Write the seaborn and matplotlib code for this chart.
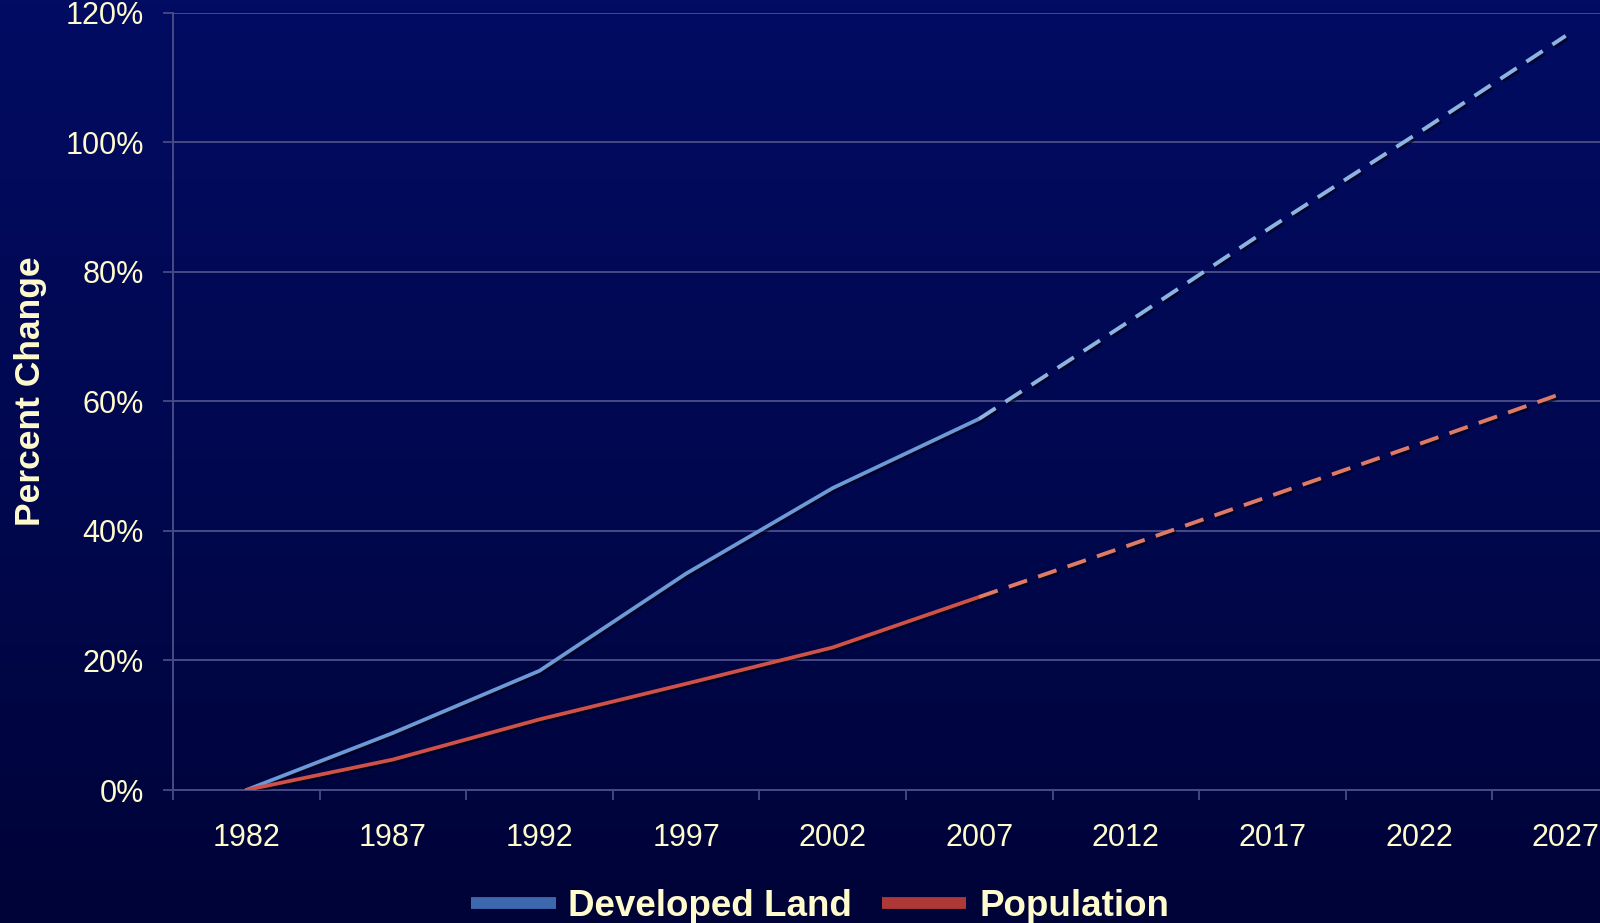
import numpy as np
import pandas as pd
import matplotlib
matplotlib.use("Agg")
import matplotlib.pyplot as plt
import matplotlib.patheffects as pe
from matplotlib.lines import Line2D
from matplotlib.colors import LinearSegmentedColormap
import seaborn as sns

# ---- data ----
years = ["1982", "1987", "1992", "1997", "2002", "2007", "2012", "2017", "2022", "2027"]
developed_land = [0.0, 8.8, 18.4, 33.4, 46.6, 57.3, 72.0, 87.0, 101.5, 116.4]
population = [0.0, 4.7, 10.9, 16.4, 22.0, 29.8, 37.6, 45.5, 53.4, 61.4]
last_actual = "2007"
y_ticks = [0, 20, 40, 60, 80, 100, 120]
series_names = ["Developed Land", "Population"]

# ---- style ----
sns.set_theme(style="white")
plt.rcParams["font.family"] = ["Liberation Sans", "DejaVu Sans"]
cream = "#fffbcc"
grid_col = "#464b85"

W, H = 1600, 923
fig = plt.figure(figsize=(W / 100, H / 100), dpi=100)

# background gradient
bg = fig.add_axes([0, 0, 1, 1], zorder=-10)
cmap = LinearSegmentedColormap.from_list("bg", ["#020c62", "#010850", "#000337"])
grad = np.linspace(0, 1, 256).reshape(-1, 1)
bg.imshow(grad, aspect="auto", cmap=cmap, extent=[0, 1, 0, 1])
bg.set_axis_off()

left, right = 173, 1639
top, bottom = 12.5, 790
ax = fig.add_axes([left / W, 1 - bottom / H, (right - left) / W, (bottom - top) / H])
ax.set_facecolor("none")

idx = np.arange(len(years))
cut = years.index(last_actual)
df = pd.DataFrame({"x": idx, "Developed Land": developed_land, "Population": population})

shadow = [pe.SimpleLineShadow(offset=(1.5, -1.5), shadow_color="#000010", alpha=0.6), pe.Normal()]
styles = {
    "Developed Land": ("#6d9ad6", "#8db3e0"),
    "Population": ("#cf5149", "#de7a66"),
}
for name in series_names:
    solid_c, dash_c = styles[name]
    sub1 = df.iloc[: cut + 1]
    sub2 = df.iloc[cut:]
    sns.lineplot(data=sub1, x="x", y=name, ax=ax, color=solid_c, linewidth=2.7,
                 path_effects=shadow, zorder=4)
    sns.lineplot(data=sub2, x="x", y=name, ax=ax, color=dash_c, linewidth=2.8,
                 linestyle=(0, (5.0, 3.0)), path_effects=shadow, zorder=4)

ax.set_xlim(-0.5, len(years) - 0.5)
ax.set_ylim(0, 120)

# x ticks: boundaries (major, unlabeled), labels at centers (minor)
ax.set_xticks(np.arange(-0.5, len(years), 1.0))
ax.set_xticklabels([])
ax.set_xticks(idx, minor=True)
ax.set_xticklabels(years, minor=True)
ax.tick_params(axis="x", which="major", length=7, width=1.3, color=grid_col, direction="out", bottom=True)
ax.tick_params(axis="x", which="minor", length=0, pad=24, labelsize=22, labelcolor=cream)

ax.set_yticks(y_ticks)
ax.set_yticklabels([f"{v}%" for v in y_ticks])
ax.tick_params(axis="y", length=7, width=1.3, color=grid_col, direction="out", left=True,
               pad=14, labelsize=22, labelcolor=cream)

ax.yaxis.grid(True, color=grid_col, linewidth=1.4)
ax.xaxis.grid(False)
for s in ["top", "right"]:
    ax.spines[s].set_visible(False)
for s in ["left", "bottom"]:
    ax.spines[s].set_visible(True)
    ax.spines[s].set_color(grid_col)
    ax.spines[s].set_linewidth(1.4)

ax.set_xlabel("")
ax.set_ylabel("Percent Change", fontsize=25.5, fontweight="bold", color=cream, va="center")
ax.yaxis.set_label_coords((31 - left) / (right - left), (bottom - 391) / (bottom - top))

handles = [Line2D([0], [0], color="#3d68ae", linewidth=8.5, solid_capstyle="butt"),
           Line2D([0], [0], color="#ae3838", linewidth=8.5, solid_capstyle="butt")]
leg = fig.legend(handles, series_names, loc="center", bbox_to_anchor=(820 / W, 1 - 906 / H),
                 ncol=2, frameon=False, handlelength=2.3, handletextpad=0.35, columnspacing=0.8,
                 prop={"family": "Liberation Sans", "weight": "bold", "size": 26.5},
                 labelcolor=cream, borderpad=0, borderaxespad=0)

fig.savefig("out.png", dpi=100)
